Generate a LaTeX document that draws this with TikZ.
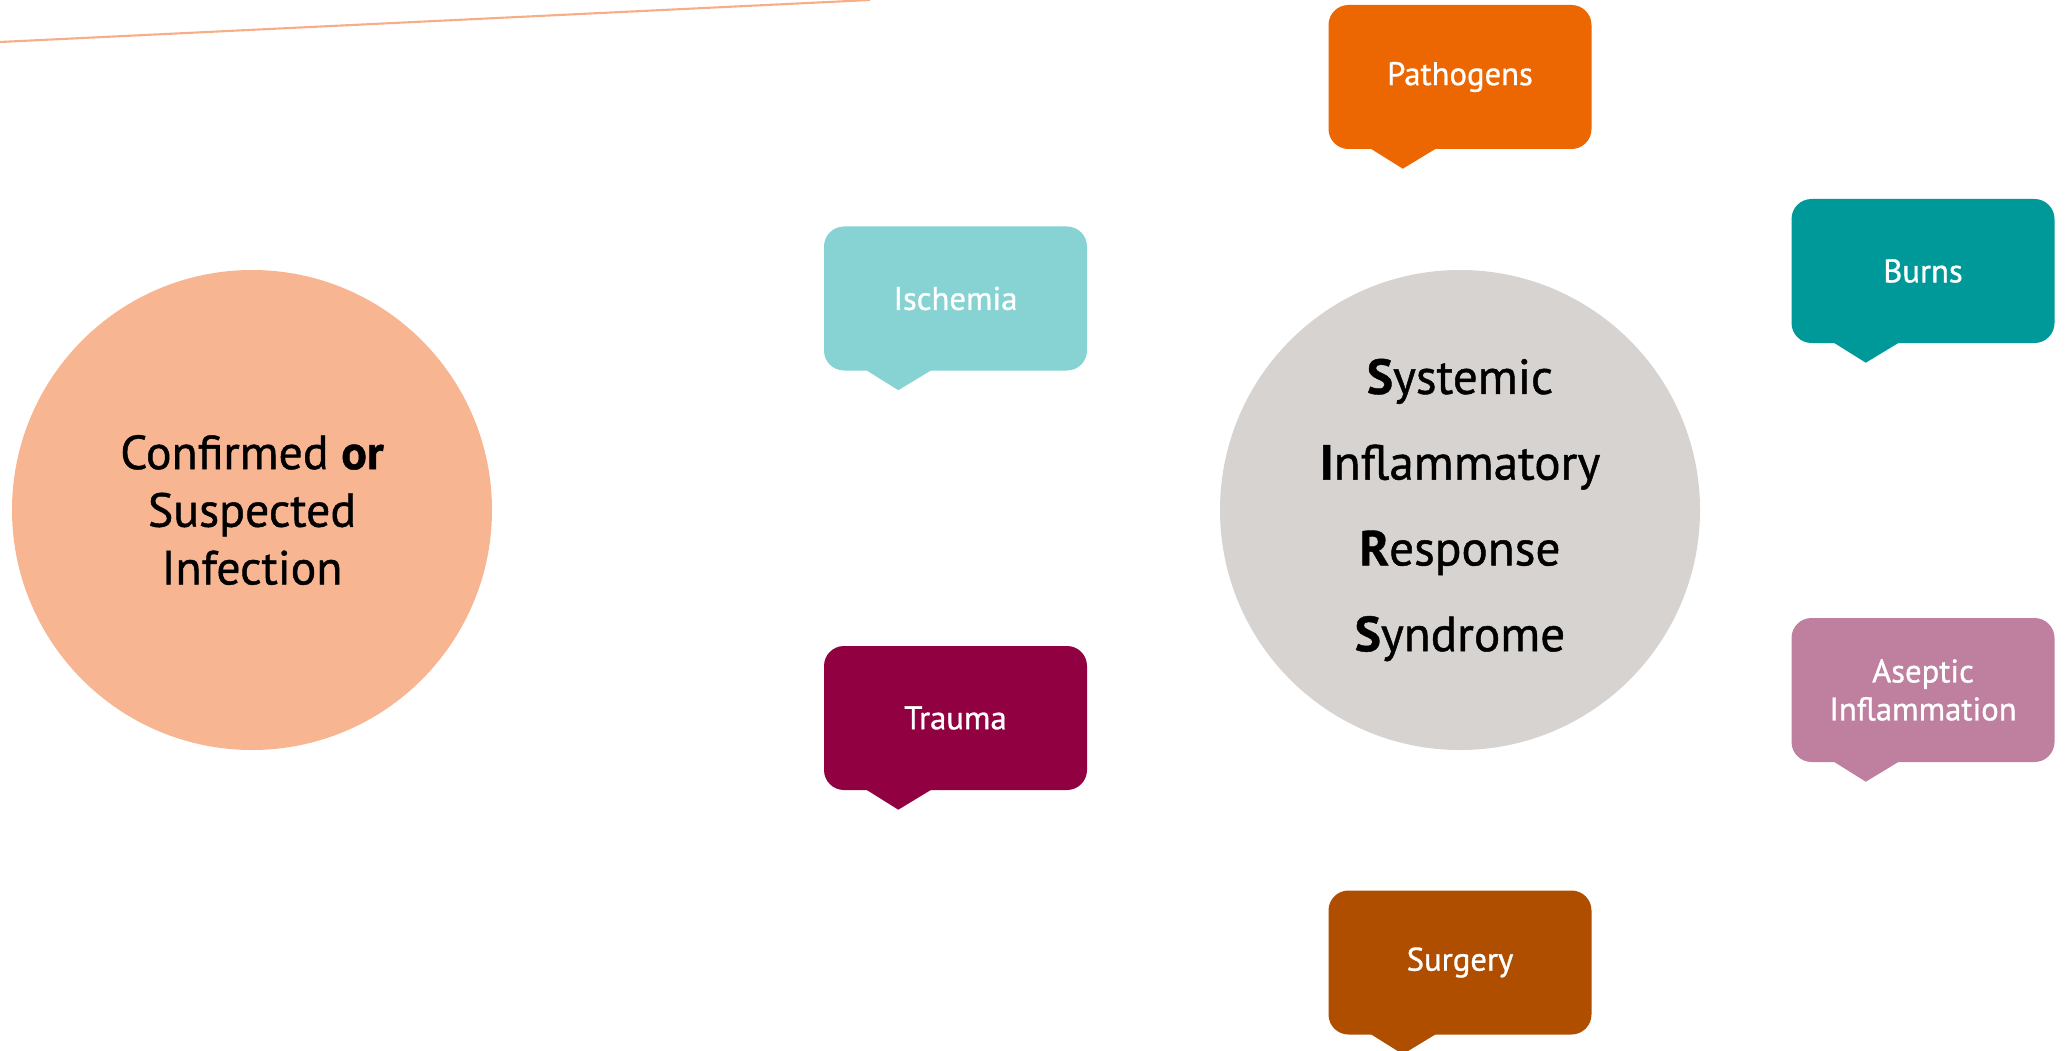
\documentclass[tikz,border=0pt]{standalone}
\usepackage{fontspec}
\setmainfont{PT Sans}[FakeBold=0.9]
\usetikzlibrary{positioning, calc}
\definecolor{sPeach}{HTML}{F8B592}
\definecolor{sRule}{HTML}{F7AE88}
\definecolor{sGray}{HTML}{D6D3D0}
\definecolor{sOrange}{HTML}{EC6602}
\definecolor{sPetrol}{HTML}{009999}
\definecolor{sLightPetrol}{HTML}{87D2D2}
\definecolor{sBerry}{HTML}{910041}
\definecolor{sMauve}{HTML}{BF80A0}
\definecolor{sRust}{HTML}{B04E00}

\begin{document}
\begin{tikzpicture}[
  every node/.style={font=\fontsize{9.3}{10.8}\selectfont},
  bubble/.style={fill=#1, text=white, rounded corners=2mm, minimum width=2.63cm,
                 minimum height=1.44cm, align=center, inner sep=0pt},
  blob/.style={circle, fill=#1, minimum size=4.8cm, align=center, inner sep=0pt},
]
  % Page frame
  \useasboundingbox (0,0) rectangle (20.67,10.5);

  % Thin rule along the top edge
  \coordinate (ruleL) at (0,10.08);
  \coordinate (ruleR) at (8.7,10.5);
  \draw[sRule, line width=0.6pt] (ruleL) -- (ruleR);

  % The two big circles
  \node[blob=sPeach, font=\fontsize{13.6}{16.4}\selectfont] (infect) at (2.52,5.4)
    {Confirmed {\bfseries or}\\Suspected\\Infection};
  \node[blob=sGray, font=\fontsize{14}{24.4}\selectfont] (sirs) at (14.6,5.4)
    {{\bfseries S}ystemic\\{\bfseries I}nflammatory\\{\bfseries R}esponse\\{\bfseries S}yndrome};

  % Trigger bubbles
  \node[bubble=sOrange] (path) at (14.6,9.73) {Pathogens};
  \node[bubble=sLightPetrol] (isch) at (9.555,7.515) {Ischemia};
  \node[bubble=sPetrol] (burns) at (19.23,7.79) {Burns};
  \node[bubble=sBerry] (trauma) at (9.555,3.32) {Trauma};
  \node[bubble=sMauve] (aseptic) at (19.23,3.6) {Aseptic\\Inflammation};
  \node[bubble=sRust] (surg) at (14.6,0.875) {Surgery};

  % Speech tails under each bubble
  \foreach \b/\c in {path/sOrange, isch/sLightPetrol, burns/sPetrol,
                     trauma/sBerry, aseptic/sMauve, surg/sRust}{
    \fill[\c] ($(\b.south west)+(0.43,0.01)$) -- ($(\b.south west)+(0.75,-0.19)$)
      -- ($(\b.south west)+(1.08,0.01)$) -- cycle;
  }
\end{tikzpicture}
\end{document}
